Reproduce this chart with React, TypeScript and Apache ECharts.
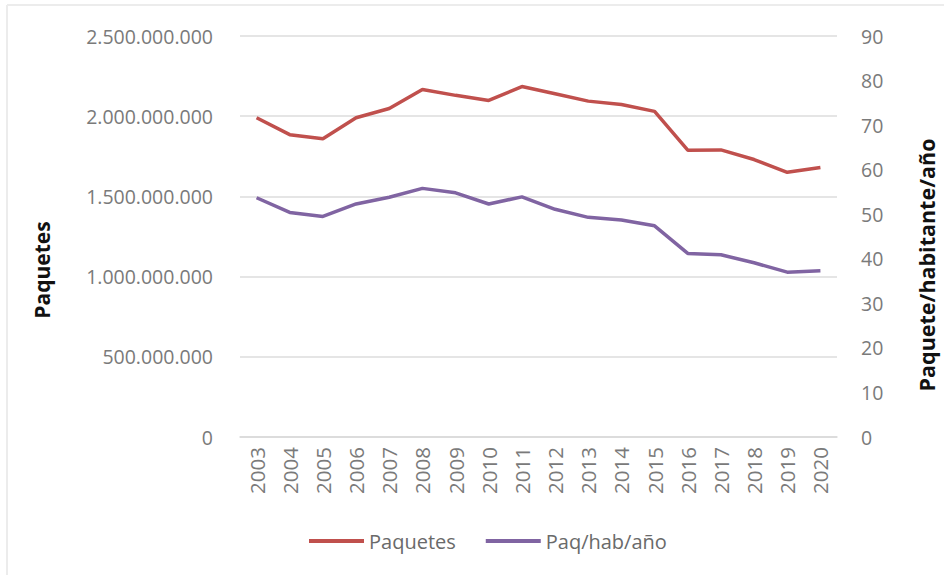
import React, { useEffect, useRef } from "react";
import * as echarts from "echarts";

const years = ["2003","2004","2005","2006","2007","2008","2009","2010","2011","2012","2013","2014","2015","2016","2017","2018","2019","2020"];
const paquetes = [1990000000,1885000000,1860000000,1990000000,2048000000,2167000000,2130000000,2098000000,2185000000,2140000000,2094000000,2073000000,2030000000,1788000000,1790000000,1730000000,1650000000,1680000000];
const paqHabAno = [53.7,50.4,49.5,52.3,53.8,55.8,54.8,52.3,53.9,51.1,49.3,48.7,47.4,41.2,40.9,39.1,37.0,37.3];
const leftTitle = "Paquetes";
const rightTitle = "Paquete/habitante/año";

const FONT = "'Open Sans', 'Noto Sans', sans-serif";
const GRAY = "#7a7a7a";

function fmtDots(v: number): string {
  return String(Math.round(v)).replace(/\B(?=(\d{3})+(?!\d))/g, ".");
}

export default function App() {
  const ref = useRef<HTMLDivElement>(null);
  useEffect(() => {
    if (!ref.current) return;
    const chart = echarts.init(ref.current, null, { renderer: "svg" });
    chart.setOption({
      animation: false,
      backgroundColor: "#ffffff",
      grid: { left: 240, right: 107, top: 36, bottom: 138, containLabel: false },
      legend: {
        left: 304,
        top: 526,
        itemWidth: 55,
        itemHeight: 4,
        itemGap: 30,
        icon: "rect",
        textStyle: { fontFamily: FONT, fontSize: 20, color: "#6a6a6a" },
        data: ["Paquetes", "Paq/hab/año"],
      },
      xAxis: {
        type: "category",
        data: years,
        boundaryGap: true,
        axisTick: { show: false },
        axisLine: { lineStyle: { color: "#d9d9d9", width: 1.5 } },
        axisLabel: { rotate: 90, margin: 10, fontFamily: FONT, fontSize: 20.5, color: GRAY, interval: 0 },
      },
      yAxis: [
        {
          type: "value",
          min: 0,
          max: 2500000000,
          interval: 500000000,
          axisLine: { show: false },
          axisTick: { show: false },
          splitLine: { lineStyle: { color: "#dcdcdc", width: 1.5 } },
          axisLabel: { margin: 27, fontFamily: FONT, fontSize: 19.5, color: GRAY, formatter: (v: number) => fmtDots(v) },
        },
        {
          type: "value",
          min: 0,
          max: 90,
          interval: 10,
          position: "right",
          axisLine: { show: false },
          axisTick: { show: false },
          splitLine: { show: false },
          axisLabel: { margin: 24, fontFamily: FONT, fontSize: 19.5, color: GRAY },
        },
      ],
      series: [
        {
          name: "Paquetes",
          type: "line",
          data: paquetes,
          yAxisIndex: 0,
          symbol: "none",
          lineStyle: { color: "#c0504d", width: 3.5 },
          itemStyle: { color: "#c0504d" },
        },
        {
          name: "Paq/hab/año",
          type: "line",
          data: paqHabAno,
          yAxisIndex: 1,
          symbol: "none",
          lineStyle: { color: "#8064a2", width: 3.5 },
          itemStyle: { color: "#8064a2" },
        },
      ],
      graphic: [
        { type: "line", shape: { x1: 7, y1: 5, x2: 944, y2: 5 }, style: { stroke: "#ececec", lineWidth: 2 } },
        { type: "line", shape: { x1: 7, y1: 5, x2: 7, y2: 575 }, style: { stroke: "#ececec", lineWidth: 2 } },
        {
          type: "text",
          x: 42,
          y: 270,
          rotation: Math.PI / 2,
          style: { text: leftTitle, font: `bold 21px ${FONT}`, fill: "#111", textAlign: "center", textVerticalAlign: "middle" },
        },
        {
          type: "text",
          x: 926,
          y: 265,
          rotation: Math.PI / 2,
          style: { text: rightTitle, font: `bold 21.5px ${FONT}`, fill: "#111", textAlign: "center", textVerticalAlign: "middle" },
        },
      ],
    });
    return () => chart.dispose();
  }, []);
  return <div ref={ref} style={{ position: "fixed", left: 0, top: 0, width: 944, height: 575 }} />;
}
